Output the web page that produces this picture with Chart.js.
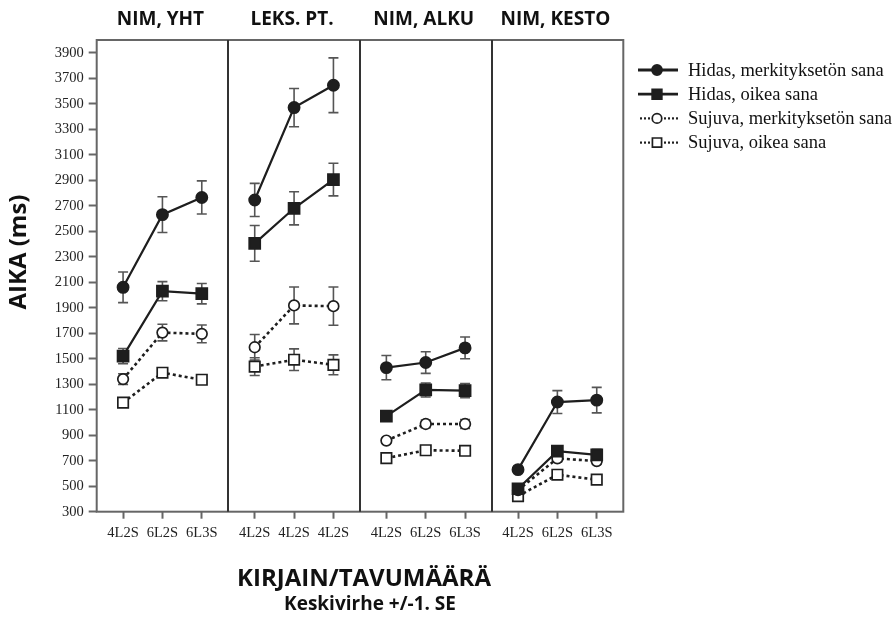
<!DOCTYPE html>
<html>
<head>
<meta charset="utf-8">
<script src="https://cdn.jsdelivr.net/npm/chart.js@4.4.1/dist/chart.umd.min.js"></script>
<style>
  html, body { margin: 0; padding: 0; background: #fff; }
  #wrap { position: relative; width: 892px; height: 617px; }
</style>
</head>
<body>
<div id="wrap"><canvas id="chart" width="892" height="617"></canvas></div>
<script>
// panels and their category labels
const panels = ['NIM, YHT', 'LEKS. PT.', 'NIM, ALKU', 'NIM, KESTO'];
const categories = [
    ['4L2S', '6L2S', '6L3S'],
    ['4L2S', '4L2S', '4L2S'],
    ['4L2S', '6L2S', '6L3S'],
    ['4L2S', '6L2S', '6L3S']
];
const yTicks = [300, 500, 700, 900, 1100, 1300, 1500, 1700, 1900, 2100, 2300, 2500, 2700, 2900, 3100, 3300, 3500, 3700, 3900];

const seriesNames = ['Hidas, merkityksetön sana', 'Hidas, oikea sana', 'Sujuva, merkityksetön sana', 'Sujuva, oikea sana'];

// means (ms), 3 per panel
const hidasMerk = [2060, 2630, 2765, 2745, 3470, 3645, 1430, 1470, 1585, 630, 1160, 1175];
const hidasOikea = [1520, 2030, 2010, 2405, 2680, 2905, 1050, 1255, 1250, 480, 775, 745];
const sujuvaMerk = [1340, 1705, 1695, 1590, 1918, 1912, 858, 988, 988, 470, 718, 697];
const sujuvaOikea = [1155, 1390, 1335, 1438, 1492, 1452, 720, 782, 778, 422, 590, 551];

// +/- 1 SE
const hidasMerkSE = [120, 140, 130, 130, 150, 215, 95, 85, 85, 25, 90, 100];
const hidasOikeaSE = [60, 75, 80, 140, 130, 128, 40, 55, 55, 25, 35, 45];
const sujuvaMerkSE = [42, 65, 70, 100, 145, 150, 20, 30, 35, 15, 25, 25];
const sujuvaOikeaSE = [15, 25, 20, 70, 85, 78, 12, 12, 12, 10, 15, 15];

const PANEL = 3.345;   // panel width in x units
const MARGIN = 0.67;   // space before first category
const xPos = (k, i) => k * PANEL + i;

const tickPositions = [];
const tickLabels = [];
categories.forEach((cats, k) => cats.forEach((c, i) => {
    tickPositions.push(xPos(k, i));
    tickLabels.push(c);
}));

function toPoints(values) {
    const out = [];
    values.forEach((v, n) => {
        const k = Math.floor(n / 3), i = n % 3;
        if (i === 0 && k > 0) out.push({ x: k * PANEL - MARGIN, y: null });
        out.push({ x: xPos(k, i), y: v });
    });
    return out;
}

const INK = '#1e1e1e';
const styles = [
    { style: 'circle', radius: 5.6, fill: INK, dash: [], width: 2.2 },
    { style: 'rect', radius: 7.8, fill: INK, dash: [], width: 2.2 },
    { style: 'circle', radius: 5.3, fill: '#fff', dash: [3, 3], width: 2.6 },
    { style: 'rect', radius: 7.4, fill: '#fff', dash: [3, 3], width: 2.6 }
];
const means = [hidasMerk, hidasOikea, sujuvaMerk, sujuvaOikea];
const errors = [hidasMerkSE, hidasOikeaSE, sujuvaMerkSE, sujuvaOikeaSE];

const datasets = means.map((vals, s) => ({
    label: seriesNames[s],
    data: toPoints(vals),
    borderColor: INK,
    borderWidth: styles[s].width,
    borderDash: styles[s].dash,
    borderCapStyle: 'butt',
    backgroundColor: styles[s].fill,
    pointStyle: styles[s].style,
    pointRadius: styles[s].radius,
    pointBackgroundColor: styles[s].fill,
    pointBorderColor: INK,
    pointBorderWidth: 1.7,
    spanGaps: false,
    tension: 0
}));

const decor = {
    id: 'decor',
    beforeDatasetsDraw(chart) {
        const { ctx, scales: { x, y } } = chart;
        ctx.save();
        ctx.strokeStyle = '#555';
        ctx.lineWidth = 1.6;
        means.forEach((vals, s) => {
            vals.forEach((v, n) => {
                const px = x.getPixelForValue(xPos(Math.floor(n / 3), n % 3));
                const top = y.getPixelForValue(v + errors[s][n]);
                const bot = y.getPixelForValue(v - errors[s][n]);
                ctx.beginPath();
                ctx.moveTo(px, top); ctx.lineTo(px, bot);
                ctx.moveTo(px - 5, top); ctx.lineTo(px + 5, top);
                ctx.moveTo(px - 5, bot); ctx.lineTo(px + 5, bot);
                ctx.stroke();
            });
        });
        ctx.restore();
    },
    afterDraw(chart) {
        const { ctx, chartArea: a, scales: { x } } = chart;
        ctx.save();
        // frame
        ctx.strokeStyle = '#666';
        ctx.lineWidth = 2;
        ctx.strokeRect(a.left, a.top, a.right - a.left, a.bottom - a.top);
        ctx.strokeStyle = '#333';
        for (let k = 1; k < panels.length; k++) {
            const px = Math.round(x.getPixelForValue(k * PANEL - MARGIN));
            ctx.beginPath();
            ctx.moveTo(px, a.top); ctx.lineTo(px, a.bottom);
            ctx.stroke();
        }
        // panel titles
        ctx.fillStyle = '#111';
        ctx.textAlign = 'center';
        ctx.textBaseline = 'middle';
        ctx.font = 'bold 19px "Open Sans", sans-serif';
        panels.forEach((p, k) => ctx.fillText(p, x.getPixelForValue(xPos(k, 1)) - 2, 20));
        // axis titles
        ctx.font = 'bold 24px "Open Sans", sans-serif';
        ctx.fillText('KIRJAIN/TAVUMÄÄRÄ', 364, 579);
        ctx.font = 'bold 19px "Open Sans", sans-serif';
        ctx.fillText('Keskivirhe +/-1. SE', 370, 605);
        ctx.save();
        ctx.translate(19, 252);
        ctx.rotate(-Math.PI / 2);
        ctx.font = 'bold 24px "Open Sans", sans-serif';
        ctx.fillText('AIKA (ms)', 0, 0);
        ctx.restore();
        // legend
        ctx.textAlign = 'left';
        ctx.font = '18.5px "Liberation Serif", serif';
        seriesNames.forEach((name, s) => {
            const ly = 70 + s * 24.2;
            const st = styles[s];
            ctx.strokeStyle = INK;
            ctx.lineWidth = st.dash.length ? 2.2 : 2.8;
            ctx.setLineDash(st.dash.length ? [2, 2] : []);
            ctx.beginPath();
            ctx.moveTo(st.dash.length ? 640 : 638, ly); ctx.lineTo(678, ly);
            ctx.stroke();
            ctx.setLineDash([]);
            ctx.fillStyle = st.fill;
            ctx.lineWidth = 1.7;
            ctx.beginPath();
            if (st.style === 'circle') ctx.arc(657, ly, st.radius * 0.9, 0, Math.PI * 2);
            else { const h = st.radius * 0.62; ctx.rect(657 - h, ly - h, 2 * h, 2 * h); }
            ctx.fill(); ctx.stroke();
            ctx.fillStyle = '#111';
            ctx.fillText(name, 688, ly + 1);
        });
        ctx.restore();
    }
};

new Chart(document.getElementById('chart'), {
    type: 'line',
    data: { datasets },
    options: {
        responsive: false,
        animation: false,
        layout: { padding: { top: 40, right: 268.7, left: 0, bottom: 0 } },
        plugins: { legend: { display: false }, tooltip: { enabled: false } },
        scales: {
            x: {
                type: 'linear',
                min: -MARGIN,
                max: panels.length * PANEL - MARGIN,
                afterBuildTicks: s => { s.ticks = tickPositions.map(v => ({ value: v })); },
                afterFit: s => { s.height = 105.3; },
                ticks: {
                    autoSkip: false,
                    maxRotation: 0,
                    padding: 6,
                    color: '#222',
                    font: { family: '"Liberation Serif", serif', size: 14.5 },
                    callback: (v, i) => tickLabels[i]
                },
                grid: { drawOnChartArea: false, tickLength: 7, tickColor: '#666', tickWidth: 2 },
                border: { display: false }
            },
            y: {
                min: 300,
                max: 4000,
                afterBuildTicks: s => { s.ticks = yTicks.map(v => ({ value: v })); },
                afterFit: s => { s.width = 96.7; },
                ticks: {
                    padding: 5,
                    color: '#222',
                    font: { family: '"Liberation Serif", serif', size: 14.5 },
                    callback: v => String(v)
                },
                grid: { drawOnChartArea: false, tickLength: 8, tickColor: '#666', tickWidth: 2 },
                border: { display: false }
            }
        }
    },
    plugins: [decor]
});
</script>
</body>
</html>
